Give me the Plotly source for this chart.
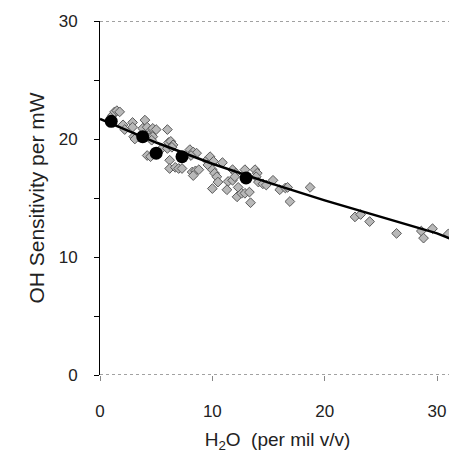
import plotly.graph_objects as go

# grey diamonds: individual measurements
scatter_x = [1.1, 1.3, 1.5, 1.75, 2.05, 2.2, 2.9, 2.9, 3.0, 3.1,
             4.0, 3.8, 4.2, 4.5, 4.7, 5.0, 4.3, 4.4, 4.7, 4.6,
             6.0, 4.2, 4.5, 5.5, 6.0, 6.2, 6.1, 6.3, 6.5, 6.4,
             6.2, 6.7, 7.0, 7.3, 8.0, 8.3, 8.6, 8.1, 8.2, 8.5,
             8.8, 8.3, 9.5, 9.8, 10.0, 9.6, 10.1, 10.9, 10.0, 10.2,
             10.4, 10.5, 10.0, 11.4, 11.8, 11.3, 11.8, 12.1, 12.0, 12.3,
             12.2, 12.6, 12.9, 13.3, 13.4, 12.9, 13.8, 14.0, 13.9, 14.1,
             14.5, 14.8, 15.4, 16.0, 16.5, 16.7, 16.9, 18.7, 22.7, 23.2,
             24.0, 26.4, 28.6, 28.8, 29.6, 31.0]
scatter_y = [22.0, 22.3, 22.4, 22.3, 21.2, 20.8, 21.4, 21.0, 20.2, 20.0,
             21.6, 20.9, 21.0, 20.7, 20.9, 20.8, 20.3, 20.1, 20.2, 19.9,
             20.8, 18.6, 18.5, 19.2, 19.2, 18.2, 19.7, 19.8, 19.5, 19.3,
             17.5, 17.6, 17.5, 17.5, 19.1, 18.9, 18.8, 18.6, 17.2, 17.3,
             17.4, 16.9, 18.2, 18.5, 18.0, 17.8, 18.1, 18.0, 17.4, 17.1,
             16.8, 16.35, 15.8, 16.4, 16.5, 15.7, 17.4, 17.1, 16.8, 15.9,
             15.1, 15.4, 15.4, 15.5, 14.6, 17.4, 17.4, 17.1, 16.8, 16.35,
             16.2, 16.1, 16.5, 15.7, 15.85, 15.9, 14.7, 15.9, 13.4, 13.6,
             13.0, 12.0, 12.2, 11.6, 12.4, 11.95]

# black circles: averaged points
mean_x = [1.0, 3.8, 5.0, 7.3, 13.0]
mean_y = [21.5, 20.2, 18.8, 18.5, 16.7]

# fitted curve
fit_x = [0, 5, 10, 15, 20, 25, 30, 31.6]
fit_y = [21.7, 19.7, 17.9, 16.3, 14.8, 13.4, 12.0, 11.4]

y_ticks = [0, 10, 20, 30]
x_ticks = [0, 10, 20, 30]

font = "Liberation Sans, Arial, sans-serif"

fig = go.Figure()
fig.add_trace(go.Scatter(
    x=scatter_x, y=scatter_y, mode="markers",
    marker=dict(symbol="diamond", size=7.5, color="#b8b8b8",
                line=dict(color="#5a5a5a", width=1)),
))
fig.add_trace(go.Scatter(
    x=fit_x, y=fit_y, mode="lines", line=dict(color="black", width=2.5),
))
fig.add_trace(go.Scatter(
    x=mean_x, y=mean_y, mode="markers",
    marker=dict(symbol="circle", size=13, color="black"),
))

# dotted frame lines at bottom and top
for yv in (y_ticks[0], y_ticks[-1]):
    fig.add_shape(type="line", xref="paper", x0=0, x1=1, yref="y", y0=yv, y1=yv,
                  line=dict(color="#444", width=1, dash="dot"))

# the page body has an 8px margin, so the figure is 8px smaller and shifted
fig.update_layout(
    width=449, height=449,
    margin=dict(l=92, r=2, t=13, b=82),
    paper_bgcolor="white", plot_bgcolor="white",
    showlegend=False,
    font=dict(family=font, size=17, color="#222"),
    xaxis=dict(
        range=[0, 31.6], tickvals=x_ticks, ticks="outside", ticklen=5,
        tickcolor="#888", showline=False, showgrid=False, zeroline=False,
        ticklabelstandoff=16, automargin=False,
        title=dict(text="H<sub>2</sub>O  (per mil v/v)", standoff=12,
                   font=dict(size=19)),
    ),
    yaxis=dict(
        range=[0, 30], tickvals=y_ticks, ticks="outside", ticklen=5,
        tickcolor="black", showline=True, linecolor="black", linewidth=1,
        showgrid=False, zeroline=False, ticklabelstandoff=13, automargin=False,
        minor=dict(tickvals=[5, 15, 25], ticks="outside", ticklen=5,
                   tickcolor="black"),
        title=dict(text="OH Sensitivity per mW", standoff=8,
                   font=dict(size=21)),
    ),
)

fig.write_html("out.html")
